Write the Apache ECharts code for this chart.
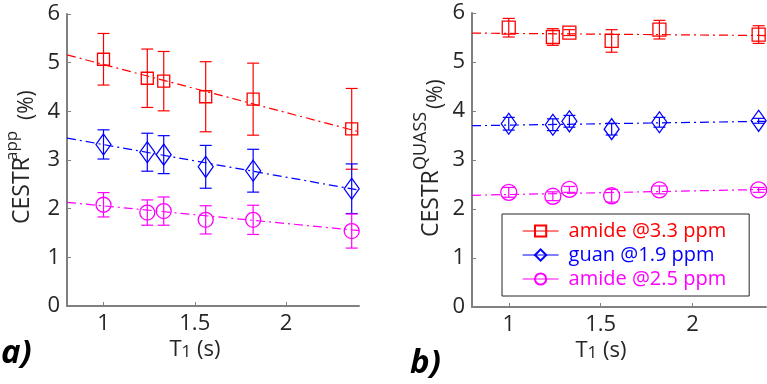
<!DOCTYPE html>
<html>
<head>
<meta charset="utf-8">
<script src="https://cdn.jsdelivr.net/npm/echarts@6.0.0/dist/echarts.min.js"></script>
<style>
  html, body { margin: 0; padding: 0; background: #fff; }
  #chart { width: 767px; height: 384px; }
</style>
</head>
<body>
<div id="chart"></div>
<script>
// sample T1 (s)
const t1 = [1.0, 1.24, 1.33, 1.56, 1.82, 2.36]
const xTicks = [1, 1.5, 2]
const fitX = [0.8, 2.4]

// a) CESTR app (%)
const amide33App = [5.07, 4.68, 4.62, 4.30, 4.25, 3.64]
const amide33AppErr = [0.53, 0.60, 0.61, 0.72, 0.74, 0.83]
const guanApp = [3.32, 3.16, 3.11, 2.86, 2.78, 2.41]
const guanAppErr = [0.30, 0.39, 0.39, 0.44, 0.44, 0.51]
const amide25App = [2.08, 1.92, 1.95, 1.77, 1.77, 1.54]
const amide25AppErr = [0.25, 0.26, 0.29, 0.29, 0.30, 0.35]
const amide33AppFit = [5.16, 3.58]
const guanAppFit = [3.45, 2.38]
const amide25AppFit = [2.13, 1.55]

// b) CESTR QUASS (%)
const amide33Q = [5.70, 5.51, 5.60, 5.43, 5.66, 5.56]
const amide33QErr = [0.19, 0.17, 0.06, 0.23, 0.19, 0.18]
const guanQ = [3.74, 3.72, 3.79, 3.63, 3.77, 3.80]
const guanQErr = [0.13, 0.12, 0.12, 0.12, 0.10, 0.05]
const amide25Q = [2.34, 2.26, 2.40, 2.27, 2.39, 2.39]
const amide25QErr = [0.10, 0.09, 0.06, 0.13, 0.08, 0.05]
const amide33QFit = [5.59, 5.54]
const guanQFit = [3.70, 3.79]
const amide25QFit = [2.28, 2.40]

const names = ['amide @3.3 ppm', 'guan @1.9 ppm', 'amide @2.5 ppm']
const colors = ['#ff0000', '#0000ff', '#ff00ff']
const font = '"Open Sans", "Noto Sans", sans-serif'
const axisGray = '#808080'
const textDark = '#262626'

const xAxisCfg = function (gridIndex) {
  return {
    type: 'value', gridIndex: gridIndex, min: 0.8, max: 2.4,
    axisLine: {show: true, onZero: false, lineStyle: {color: axisGray, width: 2}},
    axisTick: {show: true, inside: true, length: 4, customValues: xTicks, lineStyle: {color: axisGray}},
    axisLabel: {customValues: xTicks, margin: 7, color: textDark, fontSize: 22, fontFamily: font},
    splitLine: {show: false},
  }
}

const yAxisCfg = function (gridIndex) {
  return {
    type: 'value', gridIndex: gridIndex, min: 0, max: 6, interval: 1,
    axisLine: {show: true, onZero: false, lineStyle: {color: axisGray, width: 2}},
    axisTick: {show: true, inside: true, length: 4, lineStyle: {color: axisGray}},
    axisLabel: {margin: 7, color: textDark, fontSize: 22, fontFamily: font},
    splitLine: {show: false},
  }
}

const markerSeries = function (name, gi, ys, symbol, size, color) {
  return {
    name: name, type: 'line', xAxisIndex: gi, yAxisIndex: gi,
    data: t1.map((x, i) => [x, ys[i]]),
    symbol: symbol, symbolSize: size, showSymbol: true,
    lineStyle: {color: color, width: 1.2, opacity: 0},
    itemStyle: {color: 'none', borderColor: color, borderWidth: 1.3},
    silent: true, z: 4,
  }
}

const errorSeries = function (gi, ys, errs, color) {
  return {
    type: 'custom', xAxisIndex: gi, yAxisIndex: gi,
    data: t1.map((x, i) => [x, ys[i] - errs[i], ys[i] + errs[i]]),
    encode: {x: 0, y: [1, 2]},
    renderItem: function (params, api) {
      const lo = api.coord([api.value(0), api.value(1)])
      const hi = api.coord([api.value(0), api.value(2)])
      const half = 6
      const style = {stroke: color, lineWidth: 1.2}
      return {
        type: 'group',
        children: [
          {type: 'line', shape: {x1: lo[0], y1: lo[1], x2: hi[0], y2: hi[1]}, style: style},
          {type: 'line', shape: {x1: lo[0] - half, y1: lo[1], x2: lo[0] + half, y2: lo[1]}, style: style},
          {type: 'line', shape: {x1: hi[0] - half, y1: hi[1], x2: hi[0] + half, y2: hi[1]}, style: style},
        ],
      }
    },
    silent: true, z: 3,
  }
}

const fitSeries = function (gi, ys, color) {
  return {
    type: 'line', xAxisIndex: gi, yAxisIndex: gi,
    data: fitX.map((x, i) => [x, ys[i]]),
    symbol: 'none',
    lineStyle: {color: color, width: 1.2, type: [9, 4, 2, 4]},
    silent: true, z: 2,
  }
}

// rotated y label with a raised part
const yLabel = function (x, y, main, sup, supAt, pctAt, supSize) {
  return {
    type: 'group', x: x, y: y, rotation: Math.PI / 2,
    children: [
      {type: 'text', x: 0, y: 0, style: {text: main, font: '23px ' + font, fill: textDark, align: 'left', verticalAlign: 'middle'}},
      {type: 'text', x: supAt, y: -10, style: {text: sup, font: supSize + 'px ' + font, fill: textDark, align: 'left', verticalAlign: 'middle'}},
      {type: 'text', x: pctAt, y: 5, style: {text: '(%)', font: '21px ' + font, fill: textDark, align: 'left', verticalAlign: 'middle'}},
    ],
  }
}

const xLabel = function (x, y) {
  return {
    type: 'text', x: x, y: y,
    style: {
      text: '{t|T}{s|1}{t| (s)}', align: 'center', verticalAlign: 'middle', fill: textDark,
      rich: {
        t: {fontSize: 22, fontFamily: font, lineHeight: 28, verticalAlign: 'bottom', fill: textDark},
        s: {fontSize: 17, fontFamily: font, lineHeight: 24, verticalAlign: 'bottom', fill: textDark},
      },
    },
  }
}

const chart = echarts.init(document.getElementById('chart'))
chart.setOption({
  animation: false,
  grid: [
    {left: 67, top: 14, width: 292, height: 292},
    {left: 472, top: 13, width: 294, height: 294},
  ],
  xAxis: [xAxisCfg(0), xAxisCfg(1)],
  yAxis: [yAxisCfg(0), yAxisCfg(1)],
  legend: {
    left: 502, top: 214, orient: 'vertical',
    padding: [6, 23, 6, 20], itemGap: 2, itemWidth: 36, itemHeight: 14,
    borderColor: textDark, borderWidth: 1, backgroundColor: '#fff',
    lineStyle: {width: 1.2, opacity: 1},
    selectedMode: false,
    textStyle: {fontSize: 20, fontFamily: font, lineHeight: 22, padding: [0, 0, 0, 5]},
    data: names.map((n, i) => ({name: n, textStyle: {color: colors[i]}})),
  },
  graphic: [
    yLabel(22.5, 224, 'CESTR', 'app', 63, 104, 17),
    yLabel(431, 237, 'CESTR', 'QUASS', 67, 128, 18),
    xLabel(195, 347),
    xLabel(601, 348),
    {type: 'text', x: 1, y: 354, style: {text: 'a)', font: 'italic bold 33px ' + font, fill: '#000', align: 'left', verticalAlign: 'middle'}},
    {type: 'text', x: 410, y: 364, style: {text: 'b)', font: 'italic bold 33px ' + font, fill: '#000', align: 'left', verticalAlign: 'middle'}},
  ],
  series: [
    fitSeries(0, amide33AppFit, colors[0]),
    fitSeries(0, guanAppFit, colors[1]),
    fitSeries(0, amide25AppFit, colors[2]),
    errorSeries(0, amide33App, amide33AppErr, colors[0]),
    errorSeries(0, guanApp, guanAppErr, colors[1]),
    errorSeries(0, amide25App, amide25AppErr, colors[2]),
    markerSeries('a-amide33', 0, amide33App, 'rect', 12, colors[0]),
    markerSeries('a-guan', 0, guanApp, 'diamond', [15, 21], colors[1]),
    markerSeries('a-amide25', 0, amide25App, 'circle', 15, colors[2]),

    fitSeries(1, amide33QFit, colors[0]),
    fitSeries(1, guanQFit, colors[1]),
    fitSeries(1, amide25QFit, colors[2]),
    errorSeries(1, amide33Q, amide33QErr, colors[0]),
    errorSeries(1, guanQ, guanQErr, colors[1]),
    errorSeries(1, amide25Q, amide25QErr, colors[2]),
    markerSeries(names[0], 1, amide33Q, 'rect', 13, colors[0]),
    markerSeries(names[1], 1, guanQ, 'diamond', [15, 21], colors[1]),
    markerSeries(names[2], 1, amide25Q, 'circle', 16, colors[2]),
  ],
})
</script>
</body>
</html>
